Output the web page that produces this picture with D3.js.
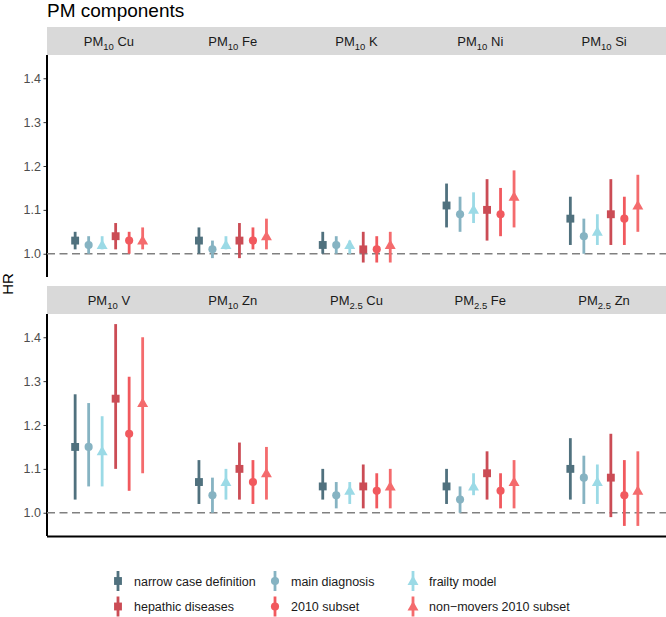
<!DOCTYPE html>
<html><head><meta charset="utf-8">
<script src="https://cdn.jsdelivr.net/npm/d3@7"></script>
<style>body{margin:0;background:#fff}svg{display:block;font-family:"Liberation Sans",Arial,sans-serif}</style>
</head><body><svg id="c" width="666" height="617"></svg>
<script>
// components: [prefix, subscript, element]
const components = [
  ["PM","10","Cu"],["PM","10","Fe"],["PM","10","K"],["PM","10","Ni"],["PM","10","Si"],
  ["PM","10","V"],["PM","10","Zn"],["PM","2.5","Cu"],["PM","2.5","Fe"],["PM","2.5","Zn"]
];
const models = ["narrow case definition","main diagnosis","frailty model","hepathic diseases","2010 subset","non\u2212movers 2010 subset"];
const colors = ["#50717E","#86B3C2","#9BDAE6","#CB4C55","#F1595E","#F46B6D"];
const shapes = ["square","circle","triangle","square","circle","triangle"];
// each: [HR, lower, upper] per component (same order as components)
const narrow   = [[1.03,1.01,1.05],[1.03,1.00,1.06],[1.02,1.00,1.05],[1.11,1.06,1.16],[1.08,1.02,1.13],[1.15,1.03,1.27],[1.07,1.02,1.12],[1.06,1.03,1.10],[1.06,1.02,1.10],[1.10,1.03,1.17]];
const mainDiag = [[1.02,1.00,1.04],[1.01,0.99,1.03],[1.02,1.00,1.04],[1.09,1.05,1.13],[1.04,1.00,1.08],[1.15,1.06,1.25],[1.04,1.00,1.08],[1.04,1.01,1.07],[1.03,1.00,1.06],[1.08,1.02,1.13]];
const frailty  = [[1.02,1.01,1.04],[1.02,1.01,1.04],[1.02,1.00,1.03],[1.10,1.07,1.14],[1.05,1.02,1.09],[1.14,1.06,1.22],[1.07,1.03,1.10],[1.05,1.02,1.07],[1.06,1.04,1.09],[1.07,1.02,1.11]];
const hepatic  = [[1.04,1.01,1.07],[1.03,0.99,1.07],[1.01,0.98,1.05],[1.10,1.03,1.17],[1.09,1.02,1.17],[1.26,1.10,1.43],[1.10,1.03,1.16],[1.06,1.01,1.11],[1.09,1.03,1.14],[1.08,0.99,1.18]];
const sub2010  = [[1.03,1.00,1.05],[1.03,1.01,1.06],[1.01,0.98,1.04],[1.09,1.04,1.15],[1.08,1.02,1.13],[1.18,1.05,1.31],[1.07,1.02,1.12],[1.05,1.01,1.09],[1.05,1.01,1.09],[1.04,0.97,1.12]];
const nonMovers= [[1.03,1.01,1.06],[1.04,1.01,1.08],[1.02,0.98,1.05],[1.13,1.06,1.19],[1.11,1.05,1.18],[1.25,1.09,1.40],[1.09,1.03,1.15],[1.06,1.01,1.10],[1.07,1.01,1.12],[1.05,0.97,1.14]];
const series = [narrow, mainDiag, frailty, hepatic, sub2010, nonMovers];
const yTicks = [1.0,1.1,1.2,1.3,1.4];
const refLine = 1.0;

const svg = d3.select("#c");
const L = 47, R = 666;
const rows = [{strip:27, top:55, bottom:277},{strip:286, top:314, bottom:536}];
const nCol = 5;
const colScale = d3.scaleBand().domain(d3.range(nCol)).range([L, R]).padding(0);
const dodge = d3.scalePoint().domain(d3.range(models.length)).range([0, colScale.bandwidth()]).padding(2.085);

svg.append("text").attr("x", L).attr("y", 17).attr("font-size", 19).attr("fill", "#000").text("PM components");

function symbolPath(shape) {
  const t = shape === "square" ? d3.symbolSquare : shape === "circle" ? d3.symbolCircle : d3.symbolTriangle;
  const size = shape === "square" ? 62 : shape === "circle" ? 52 : 52;
  return d3.symbol().type(t).size(size)();
}

rows.forEach((row, ri) => {
  const y = d3.scaleLinear().domain([0.947, 1.453]).range([row.bottom, row.top]);
  svg.append("rect").attr("x", L).attr("y", row.strip).attr("width", R - L).attr("height", row.top - row.strip).attr("fill", "#D9D9D9");
  const ax = svg.append("g").attr("transform", `translate(${L},0)`).call(d3.axisLeft(y).tickValues(yTicks).tickFormat(d3.format(".1f")).tickSize(3.5).tickPadding(2.5));
  ax.select(".domain").remove();
  ax.selectAll(".tick line").attr("stroke", "#333").attr("stroke-width", 1);
  ax.selectAll(".tick text").attr("font-size", 12.5).attr("fill", "#4D4D4D").attr("font-family", "Liberation Sans, Arial, sans-serif");
  svg.append("line").attr("x1", L).attr("x2", L).attr("y1", row.top).attr("y2", row.bottom).attr("stroke", "#000").attr("stroke-width", 2);
  svg.append("line").attr("x1", L).attr("x2", R).attr("y1", y(refLine)).attr("y2", y(refLine))
    .attr("stroke", "#808080").attr("stroke-width", 1.6).attr("stroke-dasharray", "8,4.5");
  for (let c = 0; c < nCol; c++) {
    const ci = ri * nCol + c;
    const comp = components[ci];
    const cx = colScale(c);
    const t = svg.append("text").attr("x", cx + colScale.bandwidth() / 2).attr("y", row.strip + 19)
      .attr("text-anchor", "middle").attr("font-size", 13).attr("fill", "#1A1A1A");
    t.append("tspan").text(comp[0]);
    t.append("tspan").attr("font-size", 9.5).attr("dy", 3.5).text(comp[1]);
    t.append("tspan").attr("dy", -3.5).text("\u00A0" + comp[2]);
    series.forEach((s, mi) => {
      const d = s[ci];
      const px = cx + dodge(mi);
      svg.append("line").attr("x1", px).attr("x2", px).attr("y1", y(d[1])).attr("y2", y(d[2]))
        .attr("stroke", colors[mi]).attr("stroke-width", 2.8);
      svg.append("path").attr("d", symbolPath(shapes[mi])).attr("transform", `translate(${px},${y(d[0]) + (shapes[mi]==="triangle"?0.8:0)})`).attr("fill", colors[mi]);
    });
  }
});
svg.append("line").attr("x1", L).attr("x2", R).attr("y1", 536.5).attr("y2", 536.5).attr("stroke", "#000").attr("stroke-width", 2);

svg.append("text").attr("transform", "translate(13,284) rotate(-90)").attr("text-anchor", "middle").attr("font-size", 15).attr("fill", "#000").text("HR");

const legCols = [118, 275, 413];
const legRows = [581, 606.5];
models.forEach((m, i) => {
  const lx = legCols[i % 3], ly = legRows[Math.floor(i / 3)];
  svg.append("line").attr("x1", lx).attr("x2", lx).attr("y1", ly - 10).attr("y2", ly + 10).attr("stroke", colors[i]).attr("stroke-width", 2.8);
  svg.append("path").attr("d", symbolPath(shapes[i])).attr("transform", `translate(${lx},${ly + (shapes[i]==="triangle"?0.8:0)})`).attr("fill", colors[i]);
  svg.append("text").attr("x", lx + 16).attr("y", ly + 4.5).attr("font-size", 12.5).attr("fill", "#1A1A1A").text(m);
});
</script></body></html>
